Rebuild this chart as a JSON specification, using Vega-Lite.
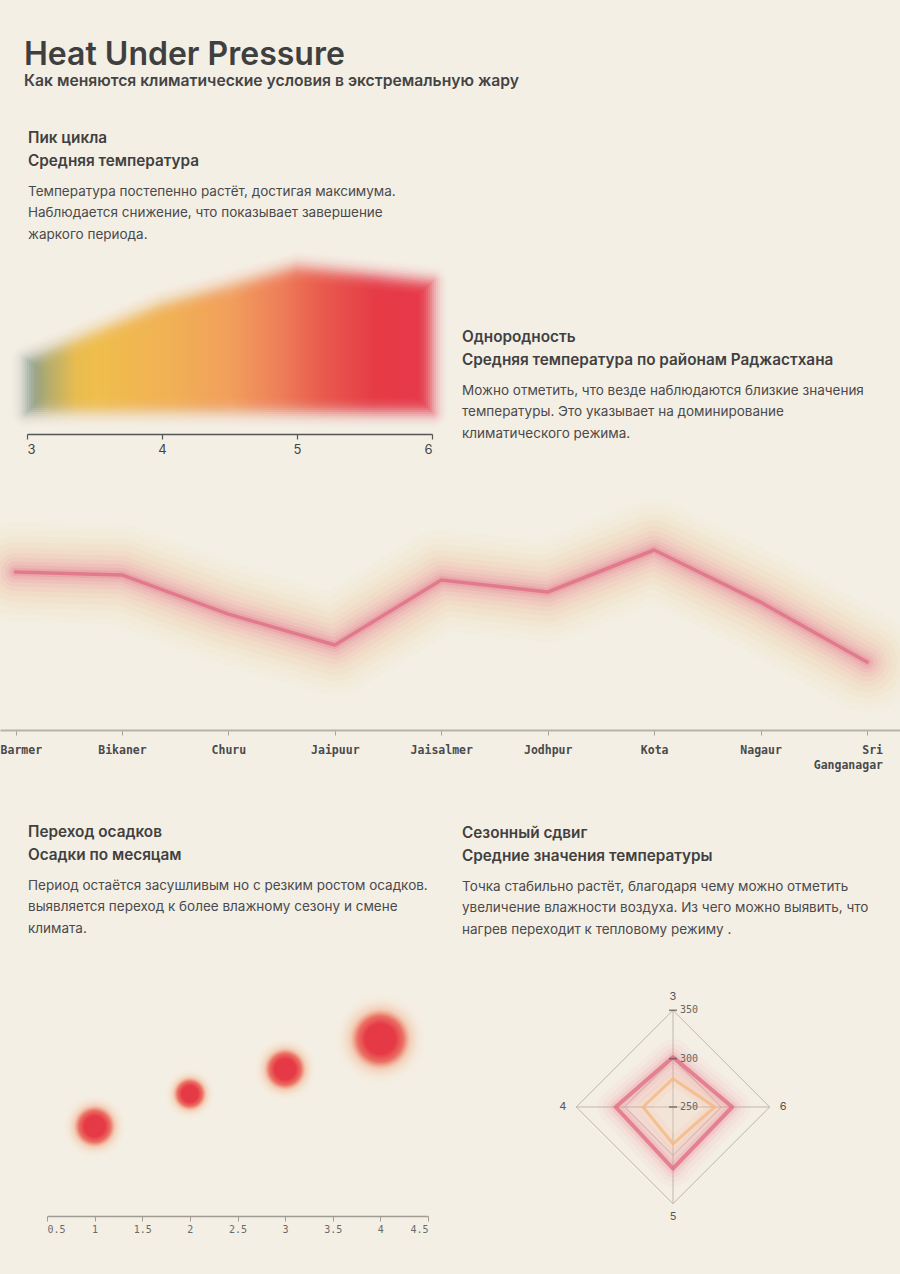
{
  "$schema": "https://vega.github.io/schema/vega-lite/v6.json",
  "background": "#f4efe5",
  "padding": {"left": 0, "right": 0, "top": 38, "bottom": 43},
  "title": {
    "text": "Heat Under Pressure",
    "subtitle": "Как меняются климатические условия в экстремальную жару",
    "anchor": "start",
    "frame": "group",
    "dx": 24,
    "offset": 42,
    "font": "Inter",
    "fontSize": 32,
    "fontWeight": 600,
    "color": "#3f3f3f",
    "subtitleFont": "Inter",
    "subtitleFontSize": 15.7,
    "subtitleFontWeight": 600,
    "subtitleColor": "#444444",
    "subtitlePadding": 2
  },
  "datasets": {
    "monthly_temp": [
      {"month": 3, "temp": 26.5},
      {"month": 4, "temp": 33.5},
      {"month": 5, "temp": 38.1},
      {"month": 6, "temp": 36.25}
    ],
    "district_temp": [
      {"district": "Barmer", "temp": 30.58},
      {"district": "Bikaner", "temp": 30.46},
      {"district": "Churu", "temp": 28.83},
      {"district": "Jaipuur", "temp": 27.54},
      {"district": "Jaisalmer", "temp": 30.25},
      {"district": "Jodhpur", "temp": 29.75},
      {"district": "Kota", "temp": 31.5},
      {"district": "Nagaur", "temp": 29.33},
      {"district": "Sri Ganganagar", "temp": 26.83}
    ],
    "monthly_precip": [
      {"month": 1, "precip": 4.0, "volume": 12},
      {"month": 2, "precip": 5.45, "volume": 7.5},
      {"month": 3, "precip": 6.55, "volume": 12},
      {"month": 4, "precip": 7.9, "volume": 25}
    ],
    "seasonal": [
      {"month": 3, "series": "high", "value": 301.7},
      {"month": 4, "series": "high", "value": 309.3},
      {"month": 5, "series": "high", "value": 313.8},
      {"month": 6, "series": "high", "value": 311.3},
      {"month": 3, "series": "low", "value": 279.3},
      {"month": 4, "series": "low", "value": 281.0},
      {"month": 5, "series": "low", "value": 288.0},
      {"month": 6, "series": "low", "value": 293.1}
    ],
    "radar_grid": [
      {"month": 3, "value": 300}, {"month": 4, "value": 300},
      {"month": 5, "value": 300}, {"month": 6, "value": 300},
      {"month": 3, "value": 350}, {"month": 4, "value": 350},
      {"month": 5, "value": 350}, {"month": 6, "value": 350}
    ],
    "radar_levels": [
      {"month": 3, "value": 250},
      {"month": 3, "value": 300},
      {"month": 3, "value": 350}
    ],
    "radar_months": [
      {"month": 3}, {"month": 4}, {"month": 5}, {"month": 6}
    ]
  },
  "bounds": "flush",
  "spacing": 78,
  "vconcat": [
    {
      "width": 900,
      "height": 160,
      "title": {
        "text": ["Пик цикла", "Средняя температура"],
        "subtitle": [
          "Температура постепенно растёт, достигая максимума.",
          "Наблюдается снижение, что показывает завершение",
          "жаркого периода."
        ],
        "dx": 28,
        "offset": 10
      },
      "data": {"name": "monthly_temp"},
      "encoding": {
        "x": {
          "field": "month",
          "type": "quantitative",
          "scale": {"domain": [3, 6], "range": [27, 432], "nice": false, "zero": false},
          "axis": {
            "values": [3, 4, 5, 6],
            "format": "d",
            "offset": 22,
            "title": null,
            "domainColor": "#555555",
            "domainWidth": 1.5,
            "tickColor": "#555555",
            "tickWidth": 1.2,
            "tickSize": 5,
            "labelFont": "Inter",
            "labelFontSize": 13,
            "labelColor": "#444444",
            "labelPadding": 4
          }
        },
        "y": {
          "field": "temp",
          "type": "quantitative",
          "scale": {"domain": [20, 40], "nice": false, "zero": false},
          "axis": null
        },
        "y2": {"datum": 20}
      },
      "layer": [
        {"mark": {"type": "area", "fillOpacity": 0, "strokeWidth": 32, "strokeOpacity": 0.016, "strokeJoin": "round",
          "stroke": {"gradient": "linear", "x1": 0, "y1": 0, "x2": 1, "y2": 0, "stops": [
            {"offset": 0, "color": "#7d988b"}, {"offset": 0.05, "color": "#b2ad6d"}, {"offset": 0.12, "color": "#e8bc50"}, {"offset": 0.17, "color": "#efbe4c"},
            {"offset": 0.36, "color": "#f1b055"}, {"offset": 0.5, "color": "#f29f5c"}, {"offset": 0.62, "color": "#ee8059"},
            {"offset": 0.73, "color": "#e95a4d"}, {"offset": 0.86, "color": "#e63b47"}, {"offset": 1, "color": "#e6374a"}]}}},
        {"mark": {"type": "area", "fillOpacity": 0, "strokeWidth": 28, "strokeOpacity": 0.018, "strokeJoin": "round",
          "stroke": {"gradient": "linear", "x1": 0, "y1": 0, "x2": 1, "y2": 0, "stops": [
            {"offset": 0, "color": "#7d988b"}, {"offset": 0.05, "color": "#b2ad6d"}, {"offset": 0.12, "color": "#e8bc50"}, {"offset": 0.17, "color": "#efbe4c"},
            {"offset": 0.36, "color": "#f1b055"}, {"offset": 0.5, "color": "#f29f5c"}, {"offset": 0.62, "color": "#ee8059"},
            {"offset": 0.73, "color": "#e95a4d"}, {"offset": 0.86, "color": "#e63b47"}, {"offset": 1, "color": "#e6374a"}]}}},
        {"mark": {"type": "area", "fillOpacity": 0, "strokeWidth": 24, "strokeOpacity": 0.034, "strokeJoin": "round",
          "stroke": {"gradient": "linear", "x1": 0, "y1": 0, "x2": 1, "y2": 0, "stops": [
            {"offset": 0, "color": "#7d988b"}, {"offset": 0.05, "color": "#b2ad6d"}, {"offset": 0.12, "color": "#e8bc50"}, {"offset": 0.17, "color": "#efbe4c"},
            {"offset": 0.36, "color": "#f1b055"}, {"offset": 0.5, "color": "#f29f5c"}, {"offset": 0.62, "color": "#ee8059"},
            {"offset": 0.73, "color": "#e95a4d"}, {"offset": 0.86, "color": "#e63b47"}, {"offset": 1, "color": "#e6374a"}]}}},
        {"mark": {"type": "area", "fillOpacity": 0, "strokeWidth": 20, "strokeOpacity": 0.05, "strokeJoin": "round",
          "stroke": {"gradient": "linear", "x1": 0, "y1": 0, "x2": 1, "y2": 0, "stops": [
            {"offset": 0, "color": "#7d988b"}, {"offset": 0.05, "color": "#b2ad6d"}, {"offset": 0.12, "color": "#e8bc50"}, {"offset": 0.17, "color": "#efbe4c"},
            {"offset": 0.36, "color": "#f1b055"}, {"offset": 0.5, "color": "#f29f5c"}, {"offset": 0.62, "color": "#ee8059"},
            {"offset": 0.73, "color": "#e95a4d"}, {"offset": 0.86, "color": "#e63b47"}, {"offset": 1, "color": "#e6374a"}]}}},
        {"mark": {"type": "area", "fillOpacity": 0, "strokeWidth": 16, "strokeOpacity": 0.089, "strokeJoin": "round",
          "stroke": {"gradient": "linear", "x1": 0, "y1": 0, "x2": 1, "y2": 0, "stops": [
            {"offset": 0, "color": "#7d988b"}, {"offset": 0.05, "color": "#b2ad6d"}, {"offset": 0.12, "color": "#e8bc50"}, {"offset": 0.17, "color": "#efbe4c"},
            {"offset": 0.36, "color": "#f1b055"}, {"offset": 0.5, "color": "#f29f5c"}, {"offset": 0.62, "color": "#ee8059"},
            {"offset": 0.73, "color": "#e95a4d"}, {"offset": 0.86, "color": "#e63b47"}, {"offset": 1, "color": "#e6374a"}]}}},
        {"mark": {"type": "area", "fillOpacity": 0, "strokeWidth": 12, "strokeOpacity": 0.156, "strokeJoin": "round",
          "stroke": {"gradient": "linear", "x1": 0, "y1": 0, "x2": 1, "y2": 0, "stops": [
            {"offset": 0, "color": "#7d988b"}, {"offset": 0.05, "color": "#b2ad6d"}, {"offset": 0.12, "color": "#e8bc50"}, {"offset": 0.17, "color": "#efbe4c"},
            {"offset": 0.36, "color": "#f1b055"}, {"offset": 0.5, "color": "#f29f5c"}, {"offset": 0.62, "color": "#ee8059"},
            {"offset": 0.73, "color": "#e95a4d"}, {"offset": 0.86, "color": "#e63b47"}, {"offset": 1, "color": "#e6374a"}]}}},
        {"mark": {"type": "area", "fillOpacity": 0, "strokeWidth": 8, "strokeOpacity": 0.254, "strokeJoin": "round",
          "stroke": {"gradient": "linear", "x1": 0, "y1": 0, "x2": 1, "y2": 0, "stops": [
            {"offset": 0, "color": "#7d988b"}, {"offset": 0.05, "color": "#b2ad6d"}, {"offset": 0.12, "color": "#e8bc50"}, {"offset": 0.17, "color": "#efbe4c"},
            {"offset": 0.36, "color": "#f1b055"}, {"offset": 0.5, "color": "#f29f5c"}, {"offset": 0.62, "color": "#ee8059"},
            {"offset": 0.73, "color": "#e95a4d"}, {"offset": 0.86, "color": "#e63b47"}, {"offset": 1, "color": "#e6374a"}]}}},
        {"mark": {"type": "area", "fillOpacity": 0, "strokeWidth": 4, "strokeOpacity": 0.58, "strokeJoin": "round",
          "stroke": {"gradient": "linear", "x1": 0, "y1": 0, "x2": 1, "y2": 0, "stops": [
            {"offset": 0, "color": "#7d988b"}, {"offset": 0.05, "color": "#b2ad6d"}, {"offset": 0.12, "color": "#e8bc50"}, {"offset": 0.17, "color": "#efbe4c"},
            {"offset": 0.36, "color": "#f1b055"}, {"offset": 0.5, "color": "#f29f5c"}, {"offset": 0.62, "color": "#ee8059"},
            {"offset": 0.73, "color": "#e95a4d"}, {"offset": 0.86, "color": "#e63b47"}, {"offset": 1, "color": "#e6374a"}]}}},
        {"mark": {"type": "area", "fillOpacity": 1, "strokeWidth": 0,
          "fill": {"gradient": "linear", "x1": 0, "y1": 0, "x2": 1, "y2": 0, "stops": [
            {"offset": 0, "color": "#7d988b"}, {"offset": 0.05, "color": "#b2ad6d"}, {"offset": 0.12, "color": "#e8bc50"}, {"offset": 0.17, "color": "#efbe4c"},
            {"offset": 0.36, "color": "#f1b055"}, {"offset": 0.5, "color": "#f29f5c"}, {"offset": 0.62, "color": "#ee8059"},
            {"offset": 0.73, "color": "#e95a4d"}, {"offset": 0.86, "color": "#e63b47"}, {"offset": 1, "color": "#e6374a"}]}}},
        {"mark": {"type": "area", "fillOpacity": 0, "strokeWidth": 28, "strokeOpacity": 0.03, "strokeJoin": "round", "stroke": "#f4efe5"}},
        {"mark": {"type": "area", "fillOpacity": 0, "strokeWidth": 24, "strokeOpacity": 0.031, "strokeJoin": "round", "stroke": "#f4efe5"}},
        {"mark": {"type": "area", "fillOpacity": 0, "strokeWidth": 20, "strokeOpacity": 0.043, "strokeJoin": "round", "stroke": "#f4efe5"}},
        {"mark": {"type": "area", "fillOpacity": 0, "strokeWidth": 16, "strokeOpacity": 0.067, "strokeJoin": "round", "stroke": "#f4efe5"}},
        {"mark": {"type": "area", "fillOpacity": 0, "strokeWidth": 12, "strokeOpacity": 0.095, "strokeJoin": "round", "stroke": "#f4efe5"}},
        {"mark": {"type": "area", "fillOpacity": 0, "strokeWidth": 8, "strokeOpacity": 0.12, "strokeJoin": "round", "stroke": "#f4efe5"}},
        {"mark": {"type": "area", "fillOpacity": 0, "strokeWidth": 4, "strokeOpacity": 0.164, "strokeJoin": "round", "stroke": "#f4efe5"}}
      ]
    },
    {
      "width": 900,
      "height": 240,
      "title": {
        "text": ["Однородность", "Средняя температура по районам Раджастхана"],
        "subtitle": [
          "Можно отметить, что везде наблюдаются близкие значения",
          "температуры. Это указывает на доминирование",
          "климатического режима."
        ],
        "dx": 462,
        "offset": 50
      },
      "data": {"name": "district_temp"},
      "encoding": {
        "x": {
          "field": "district",
          "type": "nominal",
          "scale": {"type": "point", "padding": 0.228, "align": 0.32},
          "axis": {
            "title": null,
            "labelAngle": 0,
            "domainColor": "#b8b3a8",
            "domainWidth": 2,
            "tickColor": "#a8a399",
            "tickSize": 5,
            "labelFont": "DejaVu Sans Mono",
            "labelFontSize": 11.5,
            "labelFontWeight": "bold",
            "labelColor": "#4a4a4a",
            "labelPadding": 9,
            "labelFlush": 40,
            "labelFlushOffset": 15.5,
            "labelLineHeight": 15,
            "labelOverlap": false,
            "labelExpr": "datum.label === 'Sri Ganganagar' ? ['Sri', 'Ganganagar'] : datum.label"
          }
        },
        "y": {
          "field": "temp",
          "type": "quantitative",
          "scale": {"domain": [24, 34], "nice": false, "zero": false},
          "axis": null
        }
      },
      "layer": [
        {"mark": {"type": "line", "clip": true, "strokeWidth": 100, "color": "#f3cf8e", "opacity": 0.05, "strokeCap": "round", "strokeJoin": "round"}},
        {"mark": {"type": "line", "clip": true, "strokeWidth": 86, "color": "#f2c688", "opacity": 0.06, "strokeCap": "round", "strokeJoin": "round"}},
        {"mark": {"type": "line", "clip": true, "strokeWidth": 72, "color": "#f1bb85", "opacity": 0.07, "strokeCap": "round", "strokeJoin": "round"}},
        {"mark": {"type": "line", "clip": true, "strokeWidth": 60, "color": "#f0ae88", "opacity": 0.07, "strokeCap": "round", "strokeJoin": "round"}},
        {"mark": {"type": "line", "clip": true, "strokeWidth": 48, "color": "#ee9f90", "opacity": 0.08, "strokeCap": "round", "strokeJoin": "round"}},
        {"mark": {"type": "line", "clip": true, "strokeWidth": 38, "color": "#ec9398", "opacity": 0.09, "strokeCap": "round", "strokeJoin": "round"}},
        {"mark": {"type": "line", "clip": true, "strokeWidth": 29, "color": "#e9899a", "opacity": 0.11, "strokeCap": "round", "strokeJoin": "round"}},
        {"mark": {"type": "line", "clip": true, "strokeWidth": 21, "color": "#e8829a", "opacity": 0.13, "strokeCap": "round", "strokeJoin": "round"}},
        {"mark": {"type": "line", "clip": true, "strokeWidth": 14, "color": "#e57a93", "opacity": 0.16, "strokeCap": "round", "strokeJoin": "round"}},
        {"mark": {"type": "line", "clip": true, "strokeWidth": 8, "color": "#e27088", "opacity": 0.22, "strokeCap": "round", "strokeJoin": "round"}},
        {"mark": {"type": "line", "clip": true, "strokeWidth": 3.5, "color": "#de6680", "opacity": 0.7, "strokeCap": "round", "strokeJoin": "round"}}
      ]
    },
    {
      "width": 900,
      "height": 106,
      "title": {
        "text": ["Сезонный сдвиг", "Средние значения температуры"],
        "subtitle": [
          "Точка  стабильно растёт, благодаря чему можно отметить",
          "увеличение влажности воздуха. Из чего можно выявить, что",
          "нагрев переходит к тепловому режиму ."
        ],
        "dx": 462,
        "offset": -128
      },
      "data": {"values": [{}]},
      "mark": {"type": "point", "opacity": 0},
      "encoding": {}
    },
    {
      "width": 900,
      "height": 224,
      "title": {
        "text": ["Переход осадков", "Осадки по месяцам"],
        "subtitle": [
          "Период остаётся засушливым но с  резким ростом осадков.",
          "выявляется переход к более влажному сезону и смене",
          "климата."
        ],
        "dx": 28,
        "offset": 54
      },
      "resolve": {"scale": {"x": "independent", "y": "independent"}},
      "layer": [
        {
          "data": {"name": "monthly_precip"},
          "mark": {
            "type": "point",
            "filled": true,
            "opacity": 1,
            "strokeWidth": 0,
            "fill": {
              "gradient": "radial",
              "x1": 0.5, "y1": 0.5, "r1": 0,
              "x2": 0.5, "y2": 0.5, "r2": 0.5,
              "stops": [
                {"offset": 0, "color": "#e63946"},
                {"offset": 0.3, "color": "#e63946"},
                {"offset": 0.46, "color": "rgba(233,84,72,0.82)"},
                {"offset": 0.6, "color": "rgba(240,150,105,0.35)"},
                {"offset": 0.78, "color": "rgba(244,196,150,0.12)"},
                {"offset": 1, "color": "rgba(244,239,229,0)"}
              ]
            }
          },
          "encoding": {
            "x": {
              "field": "month",
              "type": "quantitative",
              "scale": {"domain": [0.5, 4.5], "range": [47, 428], "nice": false, "zero": false},
              "axis": {
                "values": [0.5, 1, 1.5, 2, 2.5, 3, 3.5, 4, 4.5],
                "format": ".1~f",
                "title": null,
                "domainColor": "#a09c93",
                "domainWidth": 1.5,
                "tickColor": "#a09c93",
                "tickSize": 5,
                "labelFont": "DejaVu Sans Mono",
                "labelFontSize": 10,
                "labelColor": "#6a6a6a",
                "labelPadding": 3
              }
            },
            "y": {
              "field": "precip",
              "type": "quantitative",
              "scale": {"domain": [0, 10], "nice": false},
              "axis": null
            },
            "size": {
              "field": "volume",
              "type": "quantitative",
              "scale": {"domain": [0, 25], "range": [0, 10000]},
              "legend": null
            }
          }
        },
        {
          "encoding": {
            "x": {
              "field": "px",
              "type": "quantitative",
              "scale": {"domain": [-115.8, 115.8], "range": [561, 785], "nice": false, "zero": false},
              "axis": null
            },
            "y": {
              "field": "py",
              "type": "quantitative",
              "scale": {"domain": [-112.7, 118.9], "nice": false, "zero": false},
              "axis": null
            }
          },
          "layer": [
            {
              "data": {"name": "radar_grid"},
              "transform": [
                {"calculate": "-(datum.value - 250) * sin((datum.month - 3) * PI / 2)", "as": "px"},
                {"calculate": "(datum.value - 250) * cos((datum.month - 3) * PI / 2)", "as": "py"}
              ],
              "mark": {"type": "line", "interpolate": "linear-closed", "color": "#bdb8ad", "strokeWidth": 1},
              "encoding": {
                "detail": {"field": "value", "type": "nominal"},
                "order": {"field": "month", "type": "quantitative"}
              }
            },
            {
              "data": {"name": "radar_grid"},
              "transform": [
                {"filter": "datum.value === 350"},
                {"calculate": "-(datum.value - 250) * sin((datum.month - 3) * PI / 2)", "as": "px"},
                {"calculate": "(datum.value - 250) * cos((datum.month - 3) * PI / 2)", "as": "py"}
              ],
              "mark": {"type": "rule", "color": "#bdb8ad", "strokeWidth": 1},
              "encoding": {
                "x2": {"datum": 0},
                "y2": {"datum": 0}
              }
            },
            {
              "data": {"name": "seasonal"},
              "transform": [
                {"filter": "datum.series === 'high'"},
                {"calculate": "-(datum.value - 250) * sin((datum.month - 3) * PI / 2)", "as": "px"},
                {"calculate": "(datum.value - 250) * cos((datum.month - 3) * PI / 2)", "as": "py"}
              ],
              "mark": {"type": "line", "interpolate": "linear-closed", "color": "#ec9aa2", "strokeWidth": 0, "strokeOpacity": 0, "fill": "#ec9aa2", "fillOpacity": 0.12},
              "encoding": {"order": {"field": "month", "type": "quantitative"}}
            },
            {
              "data": {"name": "seasonal"},
              "transform": [
                {"filter": "datum.series === 'high'"},
                {"calculate": "-(datum.value - 250) * sin((datum.month - 3) * PI / 2)", "as": "px"},
                {"calculate": "(datum.value - 250) * cos((datum.month - 3) * PI / 2)", "as": "py"}
              ],
              "mark": {"type": "line", "interpolate": "linear-closed", "color": "#ee9aa4", "strokeWidth": 36, "opacity": 0.06, "strokeJoin": "round"},
              "encoding": {"order": {"field": "month", "type": "quantitative"}}
            },
            {
              "data": {"name": "seasonal"},
              "transform": [
                {"filter": "datum.series === 'high'"},
                {"calculate": "-(datum.value - 250) * sin((datum.month - 3) * PI / 2)", "as": "px"},
                {"calculate": "(datum.value - 250) * cos((datum.month - 3) * PI / 2)", "as": "py"}
              ],
              "mark": {"type": "line", "interpolate": "linear-closed", "color": "#ec929e", "strokeWidth": 26, "opacity": 0.08, "strokeJoin": "round"},
              "encoding": {"order": {"field": "month", "type": "quantitative"}}
            },
            {
              "data": {"name": "seasonal"},
              "transform": [
                {"filter": "datum.series === 'high'"},
                {"calculate": "-(datum.value - 250) * sin((datum.month - 3) * PI / 2)", "as": "px"},
                {"calculate": "(datum.value - 250) * cos((datum.month - 3) * PI / 2)", "as": "py"}
              ],
              "mark": {"type": "line", "interpolate": "linear-closed", "color": "#e98896", "strokeWidth": 17, "opacity": 0.11, "strokeJoin": "round"},
              "encoding": {"order": {"field": "month", "type": "quantitative"}}
            },
            {
              "data": {"name": "seasonal"},
              "transform": [
                {"filter": "datum.series === 'high'"},
                {"calculate": "-(datum.value - 250) * sin((datum.month - 3) * PI / 2)", "as": "px"},
                {"calculate": "(datum.value - 250) * cos((datum.month - 3) * PI / 2)", "as": "py"}
              ],
              "mark": {"type": "line", "interpolate": "linear-closed", "color": "#e57c8e", "strokeWidth": 10, "opacity": 0.16, "strokeJoin": "round"},
              "encoding": {"order": {"field": "month", "type": "quantitative"}}
            },
            {
              "data": {"name": "seasonal"},
              "transform": [
                {"filter": "datum.series === 'low'"},
                {"calculate": "-(datum.value - 250) * sin((datum.month - 3) * PI / 2)", "as": "px"},
                {"calculate": "(datum.value - 250) * cos((datum.month - 3) * PI / 2)", "as": "py"}
              ],
              "mark": {"type": "line", "interpolate": "linear-closed", "color": "#f7c08c", "strokeWidth": 14, "opacity": 0.16, "strokeJoin": "round", "fill": "#f9e4c4", "fillOpacity": 1},
              "encoding": {"order": {"field": "month", "type": "quantitative"}}
            },
            {
              "data": {"name": "seasonal"},
              "transform": [
                {"filter": "datum.series === 'low'"},
                {"calculate": "-(datum.value - 250) * sin((datum.month - 3) * PI / 2)", "as": "px"},
                {"calculate": "(datum.value - 250) * cos((datum.month - 3) * PI / 2)", "as": "py"}
              ],
              "mark": {"type": "line", "interpolate": "linear-closed", "color": "#f6b57c", "strokeWidth": 3, "opacity": 0.75, "strokeJoin": "round"},
              "encoding": {"order": {"field": "month", "type": "quantitative"}}
            },
            {
              "data": {"name": "seasonal"},
              "transform": [
                {"filter": "datum.series === 'high'"},
                {"calculate": "-(datum.value - 250) * sin((datum.month - 3) * PI / 2)", "as": "px"},
                {"calculate": "(datum.value - 250) * cos((datum.month - 3) * PI / 2)", "as": "py"}
              ],
              "mark": {"type": "line", "interpolate": "linear-closed", "color": "#e0647a", "strokeWidth": 4, "opacity": 0.7, "strokeJoin": "round"},
              "encoding": {"order": {"field": "month", "type": "quantitative"}}
            },
            {
              "data": {"name": "radar_levels"},
              "transform": [
                {"calculate": "0", "as": "px"},
                {"calculate": "datum.value - 250", "as": "py"}
              ],
              "mark": {"type": "tick", "orient": "horizontal", "size": 8, "thickness": 1.6, "color": "#555555"}
            },
            {
              "data": {"name": "radar_levels"},
              "transform": [
                {"calculate": "0", "as": "px"},
                {"calculate": "datum.value - 250", "as": "py"}
              ],
              "mark": {"type": "text", "align": "left", "baseline": "middle", "dx": 7, "font": "DejaVu Sans Mono", "fontSize": 10, "color": "#666666"},
              "encoding": {"text": {"field": "value", "type": "quantitative"}}
            },
            {
              "data": {"name": "radar_months"},
              "transform": [
                {"calculate": "-114 * sin((datum.month - 3) * PI / 2)", "as": "px"},
                {"calculate": "114 * cos((datum.month - 3) * PI / 2)", "as": "py"}
              ],
              "mark": {"type": "text", "align": "center", "baseline": "middle", "font": "Inter", "fontSize": 11, "color": "#555555"},
              "encoding": {"text": {"field": "month", "type": "quantitative"}}
            }
          ]
        }
      ]
    }
  ],
  "config": {
    "font": "Inter",
    "view": {"stroke": null},
    "axis": {"grid": false},
    "title": {
      "anchor": "start",
      "frame": "group",
      "font": "Inter",
      "fontSize": 15.3,
      "fontWeight": 600,
      "color": "#404040",
      "lineHeight": 23,
      "subtitleFont": "Inter",
      "subtitleFontSize": 13.5,
      "subtitleFontWeight": 400,
      "subtitleColor": "#4a4a4a",
      "subtitleLineHeight": 21.5,
      "subtitlePadding": 15
    }
  }
}
